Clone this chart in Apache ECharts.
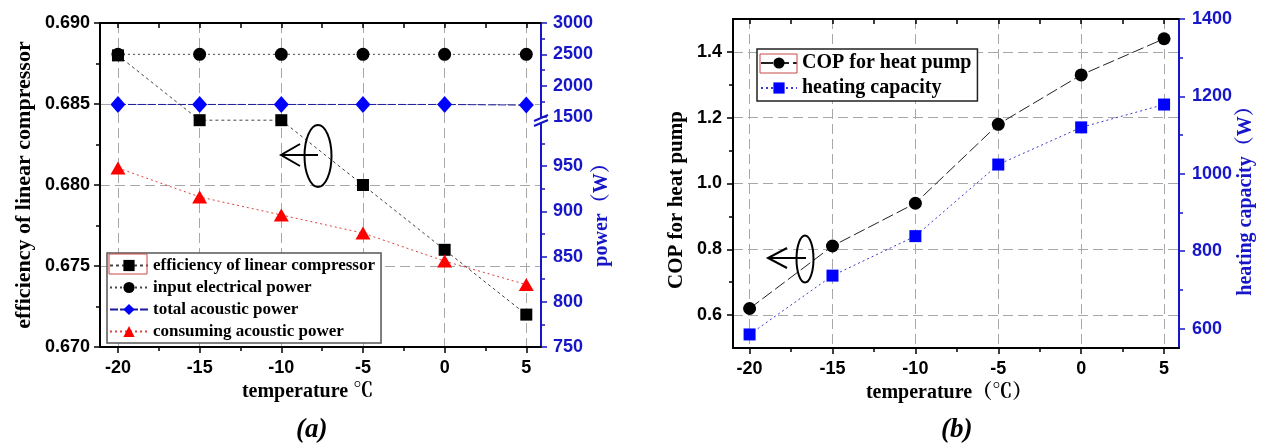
<!DOCTYPE html>
<html>
<head>
<meta charset="utf-8">
<script src="https://cdn.jsdelivr.net/npm/echarts@6/dist/echarts.min.js"></script>
<style>html,body{margin:0;padding:0;background:#fff}#c{width:1266px;height:448px}</style>
</head>
<body>
<div id="c"></div>
<script>
// ---- data ----
const temps = [-20, -15, -10, -5, 0, 5];
const efficiency = [0.688, 0.684, 0.684, 0.680, 0.676, 0.672];
const inputPower = [2500, 2500, 2500, 2500, 2500, 2500];
const totalAcoustic = [1700, 1700, 1700, 1700, 1700, 1690];
const consumingAcoustic = [948, 916, 896, 876, 845, 819];
const cop = [0.62, 0.81, 0.94, 1.18, 1.33, 1.44];
const heatingCapacity = [585, 737, 839, 1024, 1120, 1179];

const xMajor = [-20, -15, -10, -5, 0, 5];
const xMinor = [-17.5, -12.5, -7.5, -2.5, 2.5];
const copMajor = [0.6, 0.8, 1.0, 1.2, 1.4];
const copMinor = [0.7, 0.9, 1.1, 1.3];
const hcMajor = [600, 800, 1000, 1200, 1400];
const hcMinor = [700, 900, 1100, 1300];

const names = {
  eff: 'efficiency of linear compressor',
  inp: 'input electrical power',
  tot: 'total acoustic power',
  con: 'consuming acoustic power',
  cop: 'COP for heat pump',
  hc: 'heating capacity'
};

const pairs = (ys) => temps.map((t, i) => [t, ys[i]]);

const BLUE = '#1616c8';
const SERIF = "'Liberation Serif','Noto Serif CJK SC','Noto Sans CJK SC',serif";
const SANS = "'Liberation Sans',Arial,sans-serif";
const tickLabel = (color) => ({ fontFamily: SANS, fontWeight: 'bold', fontSize: 18, color: color });
const gridLine = { show: true, lineStyle: { color: '#a8a8a8', type: [10, 5], width: 1 } };
const plain = (v) => String(v);

const chart = echarts.init(document.getElementById('c'), null, { renderer: 'canvas' });

const option = {
  animation: false,
  backgroundColor: '#fff',
  grid: [
    { left: 100, right: 725, top: 23, bottom: 101 },   // 0 left chart main
    { left: 100, right: 725, top: 23, height: 94 },    // 1 left chart upper power segment
    { left: 100, right: 725, top: 121, bottom: 101 },  // 2 left chart lower power segment
    { left: 733, right: 87, top: 19, bottom: 100 }     // 3 right chart
  ],
  xAxis: [
    { // 0
      type: 'value', gridIndex: 0, position: 'bottom', min: -21.1, max: 5.9,
      axisLine: { onZero: false, lineStyle: { color: '#000', width: 2 } },
      axisTick: { customValues: xMajor, length: 6, lineStyle: { color: '#000', width: 1.5 } },
      axisLabel: Object.assign({ customValues: xMajor, margin: 12, formatter: plain }, tickLabel('#000')),
      splitLine: gridLine,
      name: 'temperature ℃', nameLocation: 'middle', nameGap: 32,
      nameTextStyle: { fontFamily: SERIF, fontWeight: 'bold', fontSize: 20, color: '#000', padding: [0, 26, 0, 0] }
    },
    { // 1 minor ticks
      type: 'value', gridIndex: 0, position: 'bottom', min: -21.1, max: 5.9,
      axisLine: { show: false, onZero: false }, axisLabel: { show: false }, splitLine: { show: false },
      axisTick: { customValues: xMinor, length: 4, lineStyle: { color: '#000', width: 1.5 } }
    },
    { // 2 top
      type: 'value', gridIndex: 0, position: 'top', min: -21.1, max: 5.9,
      axisLine: { onZero: false, lineStyle: { color: '#000', width: 2 } }, axisLabel: { show: false }, splitLine: { show: false },
      axisTick: { inside: true, customValues: xMajor.concat(xMinor), length: 5, lineStyle: { color: '#000', width: 1.5 } }
    },
    { type: 'value', gridIndex: 1, min: -21.1, max: 5.9, show: false }, // 3
    { type: 'value', gridIndex: 2, min: -21.1, max: 5.9, show: false }, // 4
    { // 5
      type: 'value', gridIndex: 3, position: 'bottom', min: -21, max: 5.9,
      axisLine: { onZero: false, lineStyle: { color: '#000', width: 2 } },
      axisTick: { customValues: xMajor, length: 6, lineStyle: { color: '#000', width: 1.5 } },
      axisLabel: Object.assign({ customValues: xMajor, margin: 12, formatter: plain }, tickLabel('#000')),
      splitLine: gridLine,
      name: 'temperature（℃）', nameLocation: 'middle', nameGap: 35,
      nameTextStyle: { fontFamily: SERIF, fontWeight: 'bold', fontSize: 20, color: '#000', padding: [0, 14, 0, 0] }
    },
    { // 6 minor
      type: 'value', gridIndex: 3, position: 'bottom', min: -21, max: 5.9,
      axisLine: { show: false, onZero: false }, axisLabel: { show: false }, splitLine: { show: false },
      axisTick: { customValues: xMinor, length: 4, lineStyle: { color: '#000', width: 1.5 } }
    },
    { // 7 top
      type: 'value', gridIndex: 3, position: 'top', min: -21, max: 5.9,
      axisLine: { onZero: false, lineStyle: { color: '#000', width: 2 } }, axisLabel: { show: false }, splitLine: { show: false },
      axisTick: { inside: true, customValues: xMajor.concat(xMinor), length: 5, lineStyle: { color: '#000', width: 1.5 } }
    }
  ],
  yAxis: [
    { // 0 efficiency
      type: 'value', gridIndex: 0, position: 'left', min: 0.670, max: 0.690, interval: 0.005,
      axisLine: { show: true, onZero: false, lineStyle: { color: '#000', width: 2 } },
      axisTick: { show: true, length: 6, lineStyle: { color: '#000', width: 1.5 } },
      minorTick: { show: true, splitNumber: 2, length: 4, lineStyle: { color: '#000', width: 1.5 } },
      axisLabel: Object.assign({ margin: 10, formatter: (v) => v.toFixed(3) }, tickLabel('#000')),
      splitLine: gridLine,
      name: 'efficiency of linear compressor', nameLocation: 'middle', nameGap: 65, nameRotate: 90,
      nameTextStyle: { fontFamily: SERIF, fontWeight: 'bold', fontSize: 22, color: '#000' }
    },
    { // 1 upper power
      type: 'value', gridIndex: 1, position: 'right', min: 1500, max: 3000, interval: 500,
      axisLine: { show: true, onZero: false, lineStyle: { color: BLUE, width: 2 } },
      axisTick: { show: true, length: 6, lineStyle: { color: BLUE, width: 1.5 } },
      minorTick: { show: true, splitNumber: 2, length: 4, lineStyle: { color: BLUE, width: 1.5 } },
      axisLabel: Object.assign({ margin: 12, formatter: plain }, tickLabel(BLUE)),
      splitLine: { show: false }
    },
    { // 2 lower power
      type: 'value', gridIndex: 2, position: 'right', min: 750, max: 1000, interval: 50,
      axisLine: { show: true, onZero: false, lineStyle: { color: BLUE, width: 2 } },
      axisTick: { show: true, length: 6, lineStyle: { color: BLUE, width: 1.5 } },
      minorTick: { show: true, splitNumber: 2, length: 4, lineStyle: { color: BLUE, width: 1.5 } },
      axisLabel: Object.assign({ margin: 12, showMaxLabel: false, formatter: plain }, tickLabel(BLUE)),
      splitLine: { show: false },
      name: 'power（W）', nameLocation: 'middle', nameGap: 51, nameRotate: 90,
      nameTextStyle: { fontFamily: SERIF, fontWeight: 'bold', fontSize: 20, color: BLUE, padding: [0, 0, 0, 48] }
    },
    { // 3 COP
      type: 'value', gridIndex: 3, position: 'left', min: 0.5, max: 1.5,
      axisLine: { show: true, onZero: false, lineStyle: { color: '#000', width: 2 } },
      axisTick: { show: true, customValues: copMajor, length: 6, lineStyle: { color: '#000', width: 1.5 } },
      axisLabel: Object.assign({ customValues: copMajor, margin: 11, formatter: (v) => v.toFixed(1) }, tickLabel('#000')),
      splitLine: gridLine,
      name: 'COP for heat pump', nameLocation: 'middle', nameGap: 46, nameRotate: 90,
      nameTextStyle: { fontFamily: SERIF, fontWeight: 'bold', fontSize: 21, color: '#000', padding: [0, 33, 0, 0] }
    },
    { // 4 COP minor
      type: 'value', gridIndex: 3, position: 'left', min: 0.5, max: 1.5,
      axisLine: { show: false, onZero: false }, axisLabel: { show: false }, splitLine: { show: false },
      axisTick: { show: true, customValues: copMinor, length: 4, lineStyle: { color: '#000', width: 1.5 } }
    },
    { // 5 heating capacity
      type: 'value', gridIndex: 3, position: 'right', min: 550, max: 1400,
      axisLine: { show: true, onZero: false, lineStyle: { color: BLUE, width: 2 } },
      axisTick: { show: true, customValues: hcMajor, length: 6, lineStyle: { color: BLUE, width: 1.5 } },
      axisLabel: Object.assign({ customValues: hcMajor, margin: 13, formatter: plain }, tickLabel(BLUE)),
      splitLine: { show: false },
      name: 'heating capacity（W）', nameLocation: 'middle', nameGap: 56, nameRotate: 90,
      nameTextStyle: { fontFamily: SERIF, fontWeight: 'bold', fontSize: 20, color: BLUE, padding: [0, 25, 0, 0] }
    },
    { // 6 HC minor
      type: 'value', gridIndex: 3, position: 'right', min: 550, max: 1400,
      axisLine: { show: false, onZero: false }, axisLabel: { show: false }, splitLine: { show: false },
      axisTick: { show: true, customValues: hcMinor, length: 4, lineStyle: { color: BLUE, width: 1.5 } }
    }
  ],
  legend: [
    {
      data: [names.eff, names.inp, names.tot, names.con],
      orient: 'vertical', left: 107, top: 253,
      itemWidth: 38, itemHeight: 14, itemGap: 5,
      padding: [4, 6, 3, 2],
      backgroundColor: '#fff', borderColor: '#555', borderWidth: 1.5, borderRadius: 0,
      textStyle: { fontFamily: SERIF, fontWeight: 'bold', fontSize: 17, color: '#000', lineHeight: 17 },
      selectedMode: false
    },
    {
      data: [names.cop, names.hc],
      orient: 'vertical', left: 757, top: 49,
      itemWidth: 36, itemHeight: 14, itemGap: 5,
      padding: [4, 6, 3, 3],
      backgroundColor: '#fff', borderColor: '#222', borderWidth: 1.5, borderRadius: 0,
      textStyle: { fontFamily: SERIF, fontWeight: 'bold', fontSize: 20, color: '#000', lineHeight: 20 },
      selectedMode: false
    }
  ],
  series: [
    {
      name: names.inp, type: 'line', xAxisIndex: 3, yAxisIndex: 1, data: pairs(inputPower),
      symbol: 'circle', symbolSize: 13, itemStyle: { color: '#000' },
      lineStyle: { color: '#444', width: 1, type: [2, 3] }
    },
    {
      name: names.tot, type: 'line', xAxisIndex: 3, yAxisIndex: 1, data: pairs(totalAcoustic),
      symbol: 'diamond', symbolSize: [15, 17], itemStyle: { color: '#0000ff' },
      lineStyle: { color: '#1a1aa0', width: 1, type: [8, 2] }
    },
    {
      name: names.eff, type: 'line', xAxisIndex: 0, yAxisIndex: 0, data: pairs(efficiency),
      symbol: 'rect', symbolSize: 12, itemStyle: { color: '#000' },
      lineStyle: { color: '#444', width: 1, type: [3, 3] }
    },
    {
      name: names.con, type: 'line', xAxisIndex: 4, yAxisIndex: 2, data: pairs(consumingAcoustic),
      symbol: 'triangle', symbolSize: [15, 13], itemStyle: { color: '#ff0000' },
      lineStyle: { color: '#e04040', width: 1, type: [2, 3] }
    },
    {
      name: names.cop, type: 'line', xAxisIndex: 5, yAxisIndex: 3, data: pairs(cop),
      symbol: 'circle', symbolSize: 13, itemStyle: { color: '#000' },
      lineStyle: { color: '#222', width: 1, type: [12, 4] }
    },
    {
      name: names.hc, type: 'line', xAxisIndex: 5, yAxisIndex: 5, data: pairs(heatingCapacity),
      symbol: 'rect', symbolSize: 12, itemStyle: { color: '#0000ff' },
      lineStyle: { color: '#3a3ad0', width: 1, type: [2, 3] }
    }
  ],
  graphic: [
    { type: 'rect', z: 100, shape: { x: 109, y: 254, width: 38, height: 20 }, style: { fill: null, stroke: '#c84848', lineWidth: 1 } },
    { type: 'rect', z: 100, shape: { x: 760, y: 54, width: 37, height: 19 }, style: { fill: null, stroke: '#c84848', lineWidth: 1 } },
    { type: 'rect', z: 100, shape: { x: 537, y: 118, width: 9, height: 4 }, style: { fill: '#fff' } },
    { type: 'line', z: 101, shape: { x1: 534, y1: 121, x2: 548, y2: 115 }, style: { stroke: BLUE, lineWidth: 2 } },
    { type: 'line', z: 101, shape: { x1: 534, y1: 126, x2: 548, y2: 120 }, style: { stroke: BLUE, lineWidth: 2 } },
    { type: 'ellipse', z: 100, shape: { cx: 318, cy: 156, rx: 13.5, ry: 31 }, style: { fill: null, stroke: '#000', lineWidth: 2 } },
    { type: 'line', z: 100, shape: { x1: 281, y1: 155, x2: 318, y2: 155 }, style: { stroke: '#000', lineWidth: 2 } },
    { type: 'polyline', z: 100, shape: { points: [[300, 144], [281, 155], [300, 166]] }, style: { fill: null, stroke: '#000', lineWidth: 2 } },
    { type: 'ellipse', z: 100, shape: { cx: 805, cy: 259, rx: 8.5, ry: 23.5 }, style: { fill: null, stroke: '#000', lineWidth: 2 } },
    { type: 'line', z: 100, shape: { x1: 768, y1: 258, x2: 806, y2: 258 }, style: { stroke: '#000', lineWidth: 2 } },
    { type: 'polyline', z: 100, shape: { points: [[787, 248], [768, 258], [787, 268]] }, style: { fill: null, stroke: '#000', lineWidth: 2 } },
    { type: 'text', z: 100, left: 296, top: 417, style: { text: '(a)', fontFamily: SERIF, fontWeight: 'bold', fontStyle: 'italic', fontSize: 27, fill: '#000' } },
    { type: 'text', z: 100, left: 941, top: 417, style: { text: '(b)', fontFamily: SERIF, fontWeight: 'bold', fontStyle: 'italic', fontSize: 27, fill: '#000' } }
  ]
};
chart.setOption(option);
</script>
</body>
</html>
